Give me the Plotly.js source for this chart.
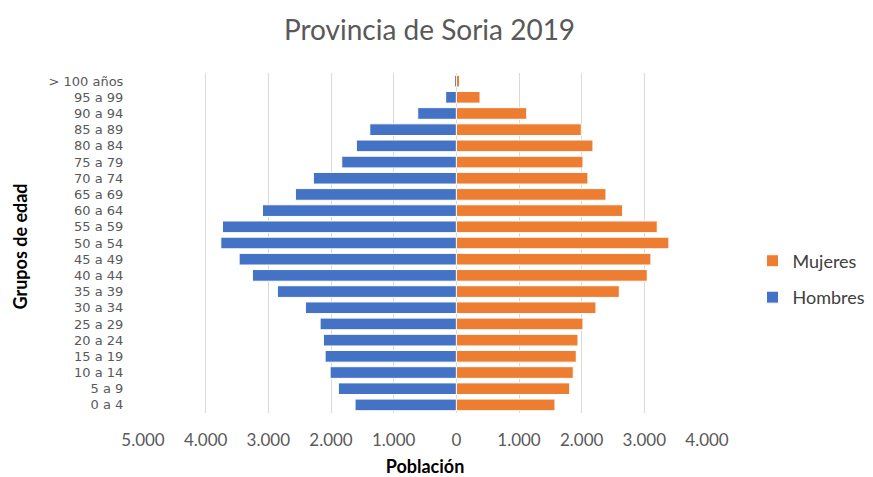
<!DOCTYPE html>
<html>
<head>
<meta charset="utf-8">
<script src="https://cdn.plot.ly/plotly-3.0.1.min.js"></script>
<style>body{margin:0;padding:0;background:#fff;}#chart{width:873px;height:477px;}</style>
</head>
<body>
<div id="chart"></div>
<script>
const categories = ["0 a 4","5 a 9","10 a 14","15 a 19","20 a 24","25 a 29","30 a 34","35 a 39","40 a 44","45 a 49","50 a 54","55 a 59","60 a 64","65 a 69","70 a 74","75 a 79","80 a 84","85 a 89","90 a 94","95 a 99","> 100 años"];
const hombres = [1616,1882,2014,2094,2121,2174,2408,2855,3254,3466,3758,3732,3094,2568,2281,1828,1595,1381,616,170,30];
const mujeres = [1574,1809,1866,1914,1941,2021,2228,2600,3046,3105,3392,3206,2654,2388,2100,2021,2180,1994,1123,378,50];
const tickVals = [-5000,-4000,-3000,-2000,-1000,0,1000,2000,3000,4000];
const tickText = ["5.000","4.000","3.000","2.000","1.000","0","1.000","2.000","3.000","4.000"];

const font = "Lato, 'Open Sans', sans-serif";
const data = [
  {type:'bar', orientation:'h', name:'Mujeres', y:categories, x:mujeres, legendgroup:'m',
   marker:{color:'#ED7D31', line:{color:'#ffffff', width:1}}},
  {type:'bar', orientation:'h', name:'Hombres', y:categories, x:hombres.map(v=>-v), legendgroup:'h',
   marker:{color:'#4472C4', line:{color:'#ffffff', width:1}}}
];
const layout = {
  width:873, height:477,
  margin:{l:143, r:166, t:73, b:64, autoexpand:false},
  paper_bgcolor:'#fff', plot_bgcolor:'#fff',
  barmode:'relative', bargap:0.28,
  title:{text:'Provincia de Soria 2019', x:0.492, xanchor:'center', yref:'container', y:0.937, yanchor:'middle',
         font:{family:font, size:28, color:'#595959'}},
  font:{family:font, color:'#595959'},
  xaxis:{range:[-5000,4000], tickmode:'array', tickvals:tickVals, ticktext:tickText, showgrid:true, gridcolor:'#d9d9d9', gridwidth:1,
         zeroline:true, zerolinecolor:'#d9d9d9', zerolinewidth:1, showline:false,
         tickfont:{size:17, color:'#595959'}, ticks:'outside', ticklen:12, tickcolor:'rgba(0,0,0,0)',
         title:{text:'<b>Población</b>', font:{size:18, color:'#000'}, standoff:16}, fixedrange:true},
  yaxis:{type:'category', tickmode:'array', tickvals:categories, showgrid:false, zeroline:false, showline:false,
         tickfont:{family:"'DejaVu Sans', sans-serif", size:13, color:'#595959'}, ticks:'outside', ticklen:16, tickcolor:'rgba(0,0,0,0)'},
  annotations:[{text:'<b>Grupos de edad</b>', xref:'paper', yref:'paper', x:-0.218, y:0.49, xanchor:'center', yanchor:'middle',
                textangle:-90, showarrow:false, font:{family:font, size:18, color:'#000'}}],
  showlegend:true,
  legend:{xref:'container', x:0.862, xanchor:'left', y:0.394, yanchor:'middle', traceorder:'grouped', tracegroupgap:10,
          font:{size:18, color:'#404040'}, bgcolor:'rgba(0,0,0,0)'}
};
Plotly.newPlot('chart', data, layout, {displayModeBar:false, staticPlot:true});
</script>
</body>
</html>
